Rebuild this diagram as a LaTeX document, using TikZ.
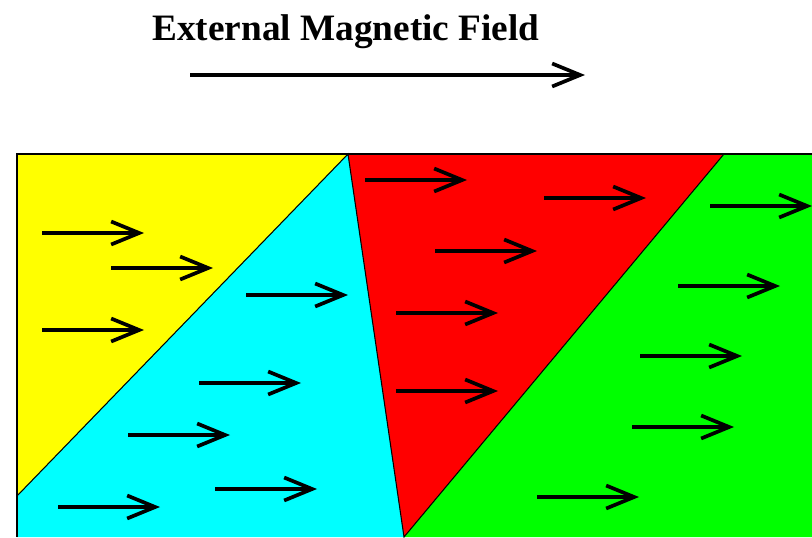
\documentclass[tikz,border=0pt]{standalone}
\usepackage{fontspec}
\setmainfont{Liberation Serif}
\usetikzlibrary{arrows.meta}

\definecolor{domyellow}{RGB}{255,255,0}
\definecolor{domcyan}{RGB}{0,255,255}
\definecolor{domred}{RGB}{255,0,0}
\definecolor{domgreen}{RGB}{0,255,0}

\tikzset{
  field/.style={line width=2.1pt,-{Straight Barb[length=5.6mm,width=4.6mm]}},
  wall/.style={line width=0.6pt}
}

\begin{document}
\begin{tikzpicture}[x=0.2mm,y=-0.2mm]
  \useasboundingbox (0,0) rectangle (812,537);

  \node[font=\bfseries\fontsize{21.2}{25}\selectfont,anchor=base] (title) at (346,40) {External Magnetic Field};
  \coordinate (b0) at (190,75);
  \coordinate (b1) at (585,75);
  \draw[field] (b0) -- (b1);

  % the four domains
  \fill[domyellow] (17,154) -- (348,154) -- (17,496) -- cycle;
  \fill[domcyan] (348,154) -- (404,537) -- (17,537) -- (17,496) -- cycle;
  \fill[domred] (348,154) -- (724,154) -- (404,537) -- cycle;
  \fill[domgreen] (724,154) -- (812,154) -- (812,537) -- (404,537) -- cycle;
  \draw[wall] (17,496) -- (348,154) -- (404,537) -- (724,154);
  \draw[line width=0.9pt] (17,537) -- (17,154) -- (812,154);

  % moments in each domain
  \foreach \x/\y in {42/233,111/268,42/330,
                     246/295,199/383,128/435,215/489,58/507,
                     365/180,544/198,435/251,396/313,396/391,
                     710/206,678/286,640/356,632/427,537/497}
    \draw[field] (\x,\y) -- ++(102,0);
\end{tikzpicture}
\end{document}
